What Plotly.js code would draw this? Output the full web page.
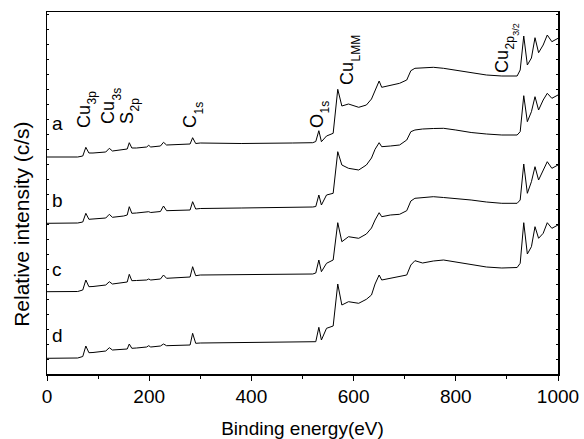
<!DOCTYPE html>
<html>
<head>
<meta charset="utf-8">
<script src="https://cdn.plot.ly/plotly-3.0.1.min.js"></script>
<style>html,body{margin:0;padding:0;background:#fff;}#chart{width:584px;height:439px;}</style>
</head>
<body>
<div id="chart"></div>
<script>
// Binding energy grid (eV)
const energy = [0,60,70,76,82,90,115,122,128,150,
  157,161,166,175,195,199,203,222,228,234,
  280,285,291,300,380,480,520,526,532,537,
  547,560,569,577,590,610,625,635,642,650,
  655,672,690,704,712,720,735,756,776,800,
  830,860,890,920,926,933,940,948,955,962,
  971,979,988,1000];

// Relative intensity (arbitrary units, offset spectra)
const seriesA = [217,217,218,226.7,221,221,222,225.7,223,224,
  225,231.3,226,226,227,228.7,227,228,231.7,229,
  230,236.3,230.5,231,230.5,231,231.3,232.5,243.3,232.3,
  238,240.7,284.7,268,270,266.7,269,275,283.3,293,
  286.7,289,290.7,294,303.3,305.7,306,306.7,305.7,304,
  301.5,299,298,298,304,338,309,316,336.3,321.3,
  329,339,332.3,335.7];
const seriesB = [150.7,151,152,160.7,154.7,155,156,159.7,156.7,158,
  159,167.3,160.7,161,161.5,162.3,161.5,162.5,168,163.3,
  164,172.3,165,165.5,166,166.5,167,167.5,179,169,
  179,180.7,222.3,209,205.7,204,209,216,224.7,231.3,
  227.3,228,229,234,242.3,244,245,245.5,245.7,244,
  241.5,240,239,239,242.3,278.3,252.3,262.3,277.3,264,
  274,280.7,275.7,279];
const seriesC = [82.3,82.5,84,94,87.3,87.5,89,92.3,90,91,
  92,99.7,93.3,93.5,94,95,94,95,99,95.7,
  97,107.3,98.3,99,99.5,99.7,100,101,114,102.3,
  110.7,114,151.3,132.3,137.3,135.7,140,146,154,161.3,
  157.3,159,159.7,163.3,173,175.7,176.5,177.3,176.5,175.7,
  174,172,170.7,170.7,174,210,180.7,192.3,207.3,194,
  204,212.3,205.7,209];
const seriesD = [15.7,16,17.5,28,21.3,21.5,23,26.3,24,24.5,
  25,30,25.7,26,27,28.3,27,28,30,28.3,
  29,40.7,30.7,31,31.3,31.7,32,32.3,46.7,34,
  45.7,48,90,69,72.3,70.7,74.7,79,90,99,
  94,95.7,97,99,109,113.3,111,113,114,112,
  109.5,107,106,106.5,110.7,151.3,120,127.3,147.3,135.7,
  140.7,151.3,145.7,149];

const seriesNames = ['a','b','c','d'];
const seriesData = [seriesA, seriesB, seriesC, seriesD];
const curveLabelY = [251, 174, 105, 39];

// Peak labels: element, subscript, second-level subscript
const peakMain = ['Cu','Cu','S','C','O','Cu','Cu'];
const peakSub = ['3p','3s','2p','1s','1s','LMM','2p'];
const peakSubSub = ['','','','','','','3/2'];
// label anchor: energy of the main text baseline, level where the text starts
const peakLabelE = [84, 132, 168, 292, 540, 599, 902];
const peakLabelY = [246, 250, 250, 246, 246, 289, 301];

const FONT = 'Liberation Sans, Arial, sans-serif';
const MAIN_FS = 18, SUB_FS = 12, SUBSUB_FS = 9;

// plot geometry
const W = 584, H = 439, M = {l: 47, r: 26, t: 12, b: 65};
const XR = [0, 1000], YR = [0, 362];
const PW = W - M.l - M.r, PH = H - M.t - M.b;
const toPaperX = e => (e - XR[0]) / (XR[1] - XR[0]);
const toPaperY = v => (v - YR[0]) / (YR[1] - YR[0]);

const ctx = document.createElement('canvas').getContext('2d');
function textW(t, fs) { ctx.font = fs + 'px "Liberation Sans"'; return ctx.measureText(t).width; }

const traces = seriesData.map((ys, i) => ({
  x: energy, y: ys, type: 'scatter', mode: 'lines', name: seriesNames[i],
  line: {color: '#000', width: 1}, hoverinfo: 'skip'
}));

const annotations = seriesNames.map((n, i) => ({
  x: 6, y: curveLabelY[i], xref: 'x', yref: 'y', text: n, showarrow: false,
  xanchor: 'left', yanchor: 'middle', font: {family: FONT, size: 19, color: '#000'}
}));

// rotated text (reading upward); px = baseline x, py = start y (paper fractions)
function rotLabel(text, px, py, fs) {
  const x = px - fs / PW;
  const yc = py + textW(text, fs) / 2 / PH;
  return {
    type: 'line', xref: 'paper', yref: 'paper', x0: x, x1: x, y0: yc, y1: yc + 0.05,
    line: {color: 'rgba(0,0,0,0)', width: 1},
    label: {text: text, textangle: -90, textposition: 'start', xanchor: 'center', yanchor: 'top', padding: 0,
      font: {family: FONT, size: fs, color: '#000'}}
  };
}

const shapes = [];
peakMain.forEach((m, i) => {
  const x0 = toPaperX(peakLabelE[i]), y0 = toPaperY(peakLabelY[i]);
  shapes.push(rotLabel(m, x0, y0, MAIN_FS));
  const x1 = x0 + 6.5 / PW;
  const y1 = y0 + (textW(m, MAIN_FS) + 0.5) / PH;
  shapes.push(rotLabel(peakSub[i], x1, y1, SUB_FS));
  if (peakSubSub[i]) {
    const x2 = x1 + 4.5 / PW;
    const y2 = y1 + (textW(peakSub[i], SUB_FS) + 0.5) / PH;
    shapes.push(rotLabel(peakSubSub[i], x2, y2, SUBSUB_FS));
  }
});
// y-axis title (rotated label, centred where the reference puts it)
shapes.push({
  type: 'line', xref: 'paper', yref: 'paper',
  x0: -0.0763, x1: -0.0763, y0: 0.414, y1: 0.5,
  line: {color: 'rgba(0,0,0,0)', width: 1},
  label: {text: 'Relative intensity (c/s)', textangle: -90, textposition: 'start', xanchor: 'center', yanchor: 'top', padding: 0,
    font: {family: FONT, size: 21, color: '#000'}}
});

const layout = {
  width: W, height: H,
  margin: M,
  paper_bgcolor: '#fff', plot_bgcolor: '#fff',
  showlegend: false,
  font: {family: FONT, color: '#000'},
  xaxis: {
    range: XR, dtick: 200, tick0: 0,
    ticks: 'outside', ticklen: 5, tickwidth: 1, tickcolor: '#000',
    minor: {dtick: 100, ticks: 'outside', ticklen: 3, tickcolor: '#000'},
    showline: true, linecolor: '#000', linewidth: 1.5, mirror: true,
    showgrid: false, zeroline: false,
    tickfont: {family: FONT, size: 19, color: '#000'},
    title: {text: 'Binding energy(eV)', font: {family: FONT, size: 19, color: '#000'}, standoff: 16}
  },
  xaxis2: {
    overlaying: 'x', side: 'top', range: XR, dtick: 100,
    ticks: 'inside', ticklen: 2, tickcolor: '#000', showticklabels: false,
    showgrid: false, zeroline: false, showline: false
  },
  yaxis: {
    range: YR, dtick: 15, tick0: 0,
    ticks: 'inside', ticklen: 2, tickcolor: '#000', showticklabels: false,
    showline: true, linecolor: '#000', linewidth: 1.5, mirror: 'allticks',
    showgrid: false, zeroline: false
  },
  annotations: annotations,
  shapes: shapes
};

Plotly.newPlot('chart', traces, layout, {displayModeBar: false, staticPlot: true});
</script>
</body>
</html>
